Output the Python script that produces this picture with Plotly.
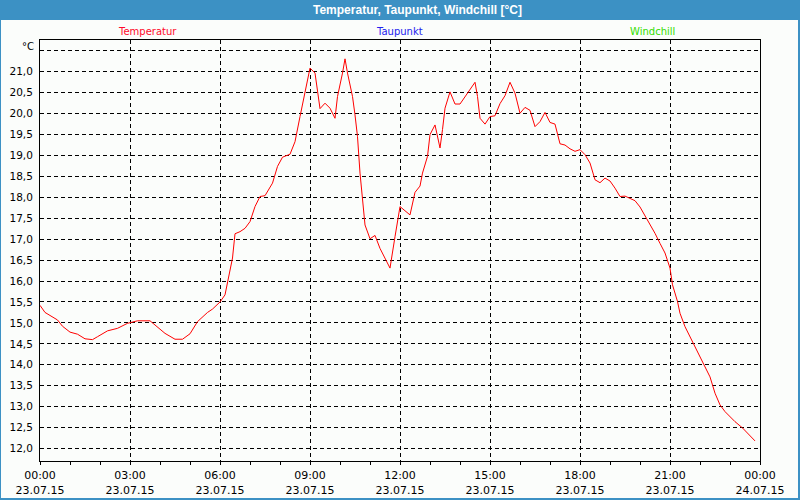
import plotly.graph_objects as go

# ---- data -------------------------------------------------------------
day = "2015-07-23"
times = ["00:00", "00:10", "00:35", "00:45", "01:00", "01:15", "01:30", "01:45", "01:55",
         "02:15", "02:35", "02:55", "03:15", "03:40", "04:10", "04:30", "04:45", "05:00",
         "05:15", "05:35", "05:45", "06:00", "06:10", "06:17", "06:25", "06:30", "06:40",
         "06:50", "07:00", "07:10", "07:20", "07:30", "07:45", "07:55", "08:05", "08:20",
         "08:30", "08:40", "08:50", "09:00", "09:10", "09:15", "09:20", "09:30", "09:40",
         "09:50", "09:55", "10:05", "10:10", "10:15", "10:25", "10:30", "10:35", "10:40",
         "10:45", "10:50", "11:00", "11:10", "11:20", "11:30", "11:40", "11:50", "12:00",
         "12:20", "12:30", "12:40", "12:45", "12:55", "13:00", "13:10", "13:15", "13:20",
         "13:25", "13:30", "13:40", "13:50", "14:00", "14:10", "14:20", "14:30", "14:35",
         "14:40", "14:50", "15:00", "15:10", "15:20", "15:30", "15:40", "15:50", "16:00",
         "16:10", "16:20", "16:30", "16:40", "16:50", "17:00", "17:10", "17:20", "17:30",
         "17:40", "17:50", "18:00", "18:10", "18:20", "18:30", "18:40", "18:50", "19:00",
         "19:10", "19:20", "19:30", "19:40", "19:50", "20:00", "20:10", "20:20", "20:30",
         "20:40", "20:50", "21:00", "21:05", "21:15", "21:20", "21:30", "21:40", "21:50",
         "22:00", "22:10", "22:20", "22:30", "22:40", "22:50", "23:00", "23:10", "23:25",
         "23:35", "23:50"]
temperatur = [15.42, 15.25, 15.07, 14.92, 14.78, 14.73, 14.62, 14.60, 14.67,
              14.81, 14.87, 14.99, 15.05, 15.05, 14.75, 14.61, 14.61, 14.74,
              15.03, 15.25, 15.33, 15.50, 15.67, 16.11, 16.55, 17.13, 17.18,
              17.26, 17.42, 17.78, 18.02, 18.04, 18.34, 18.74, 18.96, 19.03,
              19.33, 19.93, 20.49, 21.09, 20.97, 20.49, 20.12, 20.25, 20.13,
              19.89, 20.41, 20.97, 21.31, 20.97, 20.41, 19.97, 19.45, 18.58,
              17.86, 17.34, 17.01, 17.09, 16.78, 16.55, 16.31, 17.06, 17.78,
              17.58, 18.12, 18.27, 18.58, 18.98, 19.50, 19.73, 19.45, 19.18,
              19.62, 20.13, 20.52, 20.23, 20.23, 20.41, 20.59, 20.75, 20.41,
              19.89, 19.75, 19.93, 19.95, 20.24, 20.43, 20.75, 20.49, 20.01,
              20.15, 20.08, 19.69, 19.81, 20.03, 19.79, 19.75, 19.28, 19.25,
              19.16, 19.10, 19.14, 19.02, 18.82, 18.42, 18.35, 18.46, 18.39,
              18.22, 18.02, 18.03, 17.98, 17.92, 17.77, 17.56, 17.37, 17.14,
              16.90, 16.67, 16.31, 15.91, 15.51, 15.23, 14.91, 14.67, 14.47,
              14.23, 13.95, 13.71, 13.32, 13.04, 12.88, 12.76, 12.64, 12.49,
              12.36, 12.18]

series_names = ["Temperatur", "Taupunkt", "Windchill"]
series_colors = ["#ff0a2a", "#2222ee", "#33dd00"]

x_tickvals = ["2015-07-23 00:00", "2015-07-23 03:00", "2015-07-23 06:00",
              "2015-07-23 09:00", "2015-07-23 12:00", "2015-07-23 15:00",
              "2015-07-23 18:00", "2015-07-23 21:00", "2015-07-24 00:00"]
x_ticktext = ["00:00<br>23.07.15", "03:00<br>23.07.15", "06:00<br>23.07.15",
              "09:00<br>23.07.15", "12:00<br>23.07.15", "15:00<br>23.07.15",
              "18:00<br>23.07.15", "21:00<br>23.07.15", "00:00<br>24.07.15"]
y_tickvals = [12.0, 12.5, 13.0, 13.5, 14.0, 14.5, 15.0, 15.5, 16.0, 16.5,
              17.0, 17.5, 18.0, 18.5, 19.0, 19.5, 20.0, 20.5, 21.0, 21.5]
y_ticktext = ["12,0", "12,5", "13,0", "13,5", "14,0", "14,5", "15,0", "15,5", "16,0", "16,5",
              "17,0", "17,5", "18,0", "18,5", "19,0", "19,5", "20,0", "20,5", "21,0", ""]

title_text = "Temperatur, Taupunkt, Windchill [°C]"
unit_text = "°C"

# ---- figure -----------------------------------------------------------
W, H = 800, 500
ML, MR, MT, MB = 40, 40, 40, 39
PW, PH = W - ML - MR, H - MT - MB


def px_x(p):
    return (p - ML) / PW


def px_y(p):
    return (H - MB - p) / PH


FONT = "DejaVu Sans"
BLUE = "#3c91c4"

fig = go.Figure()
fig.add_trace(go.Scatter(
    x=[f"{day} {t}" for t in times], y=temperatur, mode="lines",
    line=dict(color="#ff0000", width=1), showlegend=False, hoverinfo="skip"))

annotations = [
    dict(text=f"<b>{title_text}</b>", x=px_x(417), y=px_y(10), xref="paper", yref="paper",
         xanchor="center", yanchor="middle", showarrow=False,
         font=dict(family="Liberation Sans", size=12, color="white")),
    dict(text=unit_text, x=px_x(36), y=px_y(46), xref="paper", yref="paper",
         xanchor="right", yanchor="middle", showarrow=False,
         font=dict(family=FONT, size=10, color="black")),
]
for name, col, cx in zip(series_names, series_colors, [147, 399, 652]):
    annotations.append(dict(text=name, x=px_x(cx), y=px_y(32), xref="paper", yref="paper",
                            xanchor="center", yanchor="middle", showarrow=False,
                            font=dict(family=FONT, size=10, color=col)))

shapes = [
    # white inner panel over blue paper
    dict(type="rect", xref="paper", yref="paper", layer="below",
         x0=px_x(1), x1=px_x(798), y0=px_y(498), y1=px_y(20),
         fillcolor="#fbfdfb", line=dict(width=0)),
]

fig.update_layout(
    width=W, height=H,
    margin=dict(l=ML, r=MR, t=MT, b=MB, pad=0, autoexpand=False),
    paper_bgcolor=BLUE, plot_bgcolor="#fbfdfb",
    annotations=annotations, shapes=shapes,
    xaxis=dict(type="date", range=["2015-07-23 00:00", "2015-07-24 00:00"],
               tickmode="array", tickvals=x_tickvals, ticktext=x_ticktext,
               showline=True, mirror=True, linecolor="black", linewidth=1,
               ticks="outside", ticklen=3, tickcolor="black", tickwidth=1,
               showgrid=True, gridcolor="black", gridwidth=1, griddash="4px,3px",
               minor=dict(dtick=3600000, ticks="outside", ticklen=3, tickcolor="black",
                          showgrid=False),
               zeroline=False, tickangle=0, ticklabelstandoff=1, automargin=False,
               tickfont=dict(family=FONT, size=11, color="black")),
    yaxis=dict(range=[11.70, 21.76], tickmode="array", tickvals=y_tickvals,
               ticktext=y_ticktext, automargin=False,
               showline=True, mirror=True, linecolor="black", linewidth=1,
               ticks="", showgrid=True, gridcolor="black", gridwidth=1,
               griddash="4px,3px", zeroline=False, ticklabelstandoff=4,
               tickfont=dict(family=FONT, size=10.5, color="black")),
)

fig.write_html("out.html")
